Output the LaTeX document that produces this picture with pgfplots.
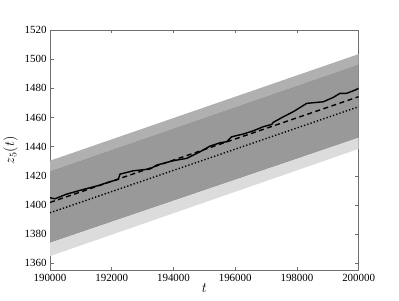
\documentclass[border=0pt]{standalone}
\usepackage{pgfplots}
\pgfplotsset{compat=1.18}
\usepackage{fontspec}
\setmainfont{Liberation Serif}
\definecolor{axgray}{RGB}{110,110,110}
\definecolor{bandmed}{RGB}{176,176,176}
\definecolor{banddark}{RGB}{153,153,153}
\definecolor{bandlight}{RGB}{220,220,220}
\begin{document}
\begin{tikzpicture}[x=1bp,y=1bp]
\begin{axis}[
  scale only axis,
  width=308.7bp, height=240.7bp,
  xmin=190000, xmax=200000,
  ymin=1355, ymax=1520,
  xtick={190000,192000,194000,196000,198000,200000},
  xticklabels={190000,192000,194000,196000,198000,200000},
  ytick={1360,1380,1400,1420,1440,1460,1480,1500,1520},
  yticklabels={1360,1380,1400,1420,1440,1460,1480,1500,1520},
  scaled ticks=false,
  tick align=inside,
  major tick length=3.5bp,
  axis line style={axgray, line width=0.8bp},
  every tick/.style={axgray, line width=0.6bp},
  tick label style={font=\fontsize{11}{12}\selectfont},
  xlabel={$t$}, ylabel={$z_5(t)$},
  label style={font=\fontsize{14}{16}\selectfont},
  xlabel style={yshift=5bp},
  ylabel style={yshift=0bp},
  clip=true,
]
\coordinate (sw) at (rel axis cs:0,0);
\coordinate (ne) at (rel axis cs:1,1);
\addplot[fill=bandmed, draw=none] coordinates {(190000,1423.3) (200000,1496.5) (200000,1503.5) (190000,1430.4)} --cycle;
\addplot[fill=banddark, draw=none] coordinates {(190000,1374.1) (200000,1446.1) (200000,1496.5) (190000,1423.3)} --cycle;
\addplot[fill=bandlight, draw=none] coordinates {(190000,1365.0) (200000,1438.5) (200000,1446.1) (190000,1374.1)} --cycle;
\addplot[black, line width=1.4bp, dash pattern=on 1.3bp off 2.1bp] coordinates {(190000,1394.7) (200000,1467.4)};
\addplot[black, line width=1.4bp, dash pattern=on 5bp off 3.5bp] coordinates {(190000,1401.8) (200000,1474.3)};
\addplot[black, line width=1.4bp] coordinates {
(190000,1405.0) (190162,1404.3) (190541,1407.5) (191079,1410.7) (191620,1413.7)
(191944,1416.0) (192213,1417.6) (192268,1421.2) (192698,1423.5) (193239,1424.7)
(193457,1427.4) (193994,1430.4) (194428,1432.0) (194859,1436.5) (195183,1440.4)
(195507,1442.7) (195724,1443.4) (195886,1446.8) (196262,1448.7) (196586,1450.9)
(196910,1453.7) (197182,1455.3) (197234,1456.7) (197558,1460.5) (197882,1464.0)
(198316,1469.7) (198853,1470.8) (199177,1473.8) (199394,1476.6) (199611,1476.6)
(199880,1478.8) (200000,1480.0)};
\end{axis}
\path ([xshift=-50bp,yshift=-30.3bp]sw) rectangle ([xshift=40.3bp,yshift=30bp]ne);
\end{tikzpicture}
\end{document}
